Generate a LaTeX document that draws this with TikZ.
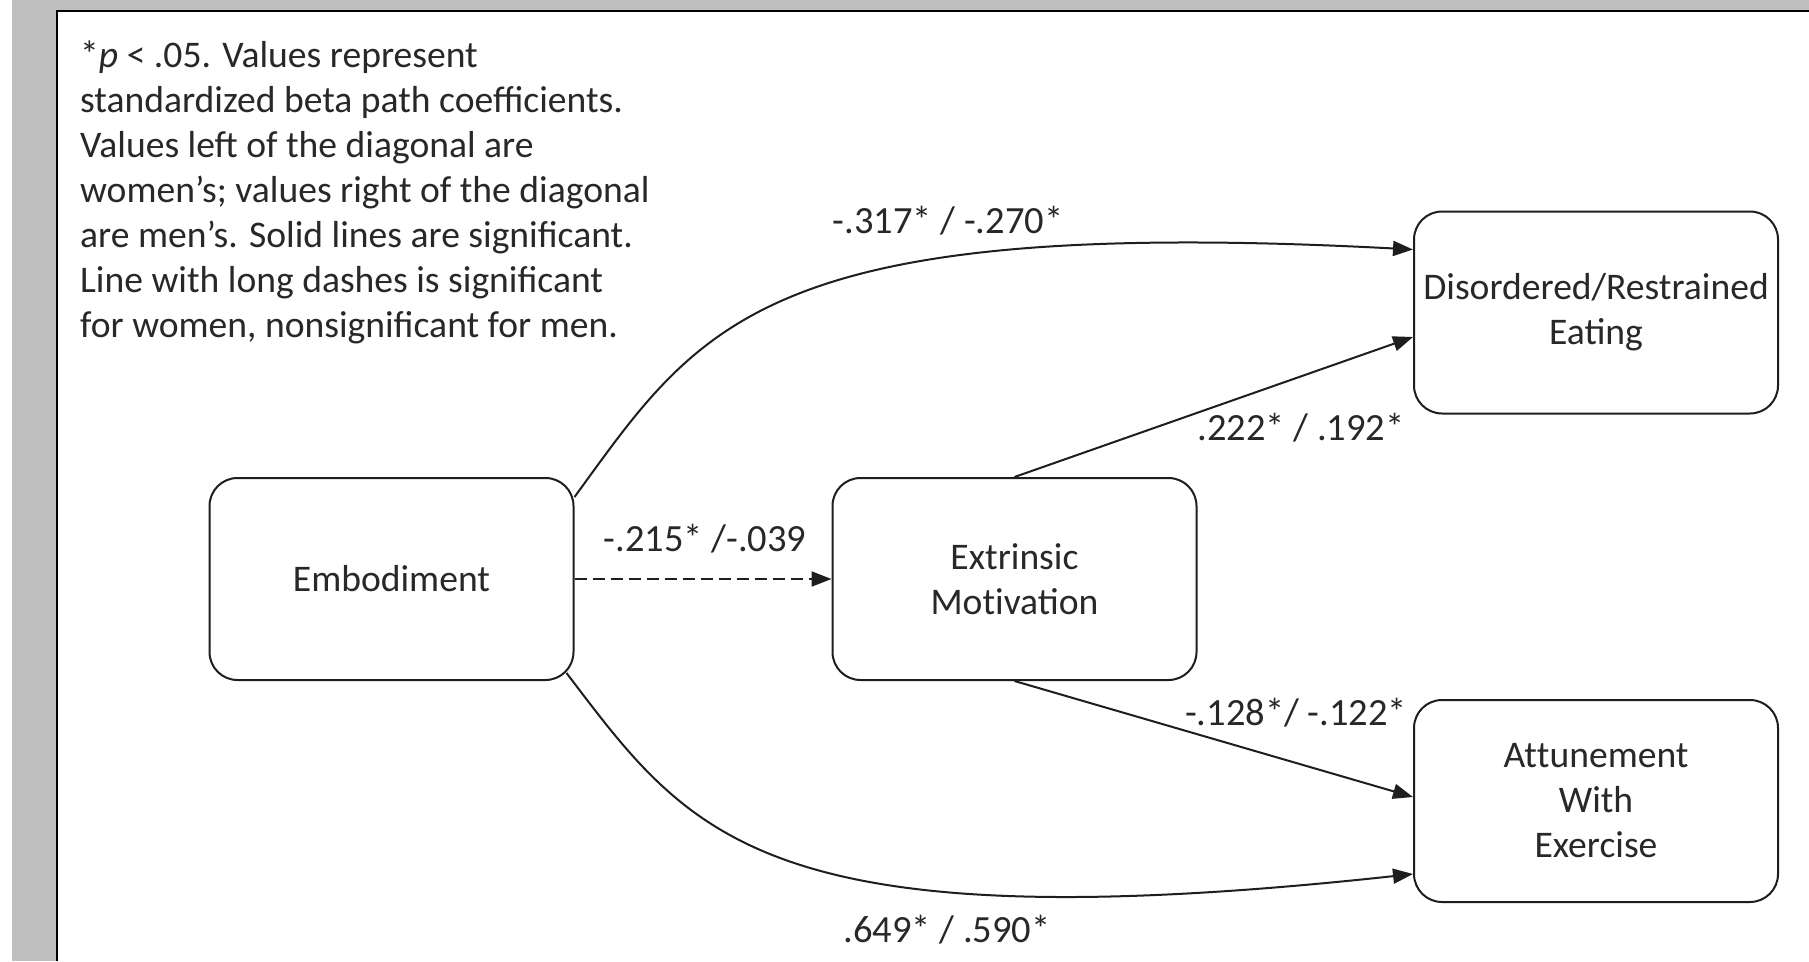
\documentclass[tikz,border=0pt]{standalone}
\usepackage{fontspec}
\setmainfont{Carlito}
\usetikzlibrary{arrows.meta}
\definecolor{bggray}{RGB}{191,191,191}
\definecolor{ink}{RGB}{40,40,40}
\definecolor{lineink}{RGB}{30,30,30}
\begin{document}
\begin{tikzpicture}[x=1pt,y=-1pt,
  font=\fontsize{37.6}{45}\selectfont,
  box/.style={draw=lineink, line width=2pt, rounded corners=28pt,
    minimum width=364pt, minimum height=202pt, align=center, text=ink, inner sep=0pt},
  lbl/.style={anchor=base, text=ink, inner sep=0pt, font=\fontsize{38.5}{45}\selectfont},
  conn/.style={draw=lineink, line width=2pt, -{Triangle[length=20pt,width=15pt]}},
  dashconn/.style={conn, dash pattern=on 12pt off 6pt}]
\useasboundingbox (0,0) rectangle (1809,961);
\fill[white] (0,0) rectangle (1809,961);
\fill[bggray] (12,0) rectangle (57,961);
\fill[bggray] (12,0) rectangle (1809,11);
\draw[black, line width=2.5pt] (57,961) -- (57,11) -- (1809,11);

\node[anchor=north west, align=left, text=ink, inner sep=0pt] (note) at (80,41)
  {*\textit{p} < .05. Values represent\\
   standardized beta path coefficients.\\
   Values left of the diagonal are\\
   women’s; values right of the diagonal\\
   are men’s. Solid lines are significant.\\
   Line with long dashes is significant\\
   for women, nonsignificant for men.};

\node[box] (emb) at (391.5,579) {Embodiment};
\node[box] (ext) at (1014.5,579) {Extrinsic\\Mot\kern0pt ivation};
\node[box] (dis) at (1596,312.5) {Disordered/Restrained\\Eating};
\node[box] (att) at (1596,801) {At\kern0pt t\kern0pt unement\\With\\Exercise};

\draw[conn] ([yshift=-20pt]emb.north east) .. controls (700,325) and (760,215) .. ([yshift=63pt]dis.west);
\draw[conn] (ext.north) -- ([yshift=-24.5pt]dis.west);
\draw[dashconn] (emb.east) -- (ext.west);
\draw[conn] (ext.south) -- ([yshift=4pt]att.west);
\draw[conn] ([shift={(-8pt,8pt)}]emb.south east) .. controls (690,835) and (760,945) .. ([yshift=-73pt]att.west);

\node[lbl] (l1) at (948,233) {-.317* / -.270*};
\node[lbl] (l2) at (1301,440) {.222* / .192*};
\node[lbl] (l3) at (705,551) {-.215* /-.039};
\node[lbl] (l4) at (1296,725) {-.128*/ -.122*};
\node[lbl] (l5) at (947,942) {.649* / .590*};
\end{tikzpicture}
\end{document}
